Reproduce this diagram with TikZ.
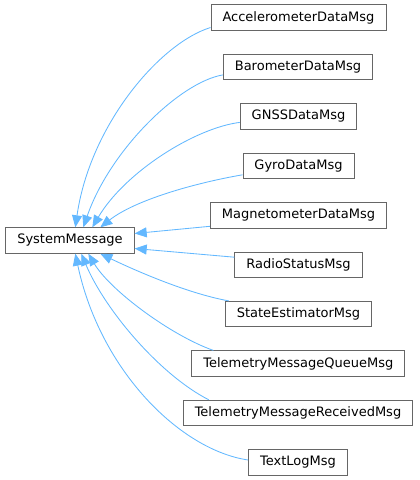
\documentclass[tikz,border=0pt]{standalone}
\usepackage{fontspec}
\setmainfont{DejaVu Sans}
\usetikzlibrary{arrows.meta}
\definecolor{edgeblue}{HTML}{63B8FF}
\definecolor{boxgray}{HTML}{666666}
\tikzset{
  cls/.style={draw=boxgray, fill=white, line width=0.9pt, inner xsep=11.5pt, inner ysep=0pt,
    minimum height=25.5pt, font=\fontsize{13}{15}\selectfont, text=black},
  inh/.style={draw=edgeblue, line width=0.85pt, -{Triangle[length=12pt,width=10pt]}, color=edgeblue}
}
\begin{document}
\begin{tikzpicture}[x=1pt,y=-1pt]
\useasboundingbox (0,0) rectangle (420,480);
\node[cls] (sm) at (70,240.5) {SystemMessage};
\node[cls] (acc) at (298.5,17.5) {AccelerometerDataMsg};
\node[cls] (baro) at (298,66.9) {BarometerDataMsg};
\node[cls] (gnss) at (298.5,116.4) {GNSSDataMsg};
\node[cls] (gyro) at (298.5,165.8) {GyroDataMsg};
\node[cls] (mag) at (298.5,215.3) {MagnetometerDataMsg};
\node[cls] (radio) at (298.5,264.7) {RadioStatusMsg};
\node[cls] (state) at (298.5,314.1) {StateEstimatorMsg};
\node[cls] (queue) at (298.3,363.6) {TelemetryMessageQueueMsg};
\node[cls] (recv) at (298,413) {TelemetryMessageReceivedMsg};
\node[cls] (textlog) at (298,462.5) {TextLogMsg};

\draw[inh] ([yshift=-10pt]acc.west) .. controls (160,43) and (90,125) .. ([xshift=70pt]sm.north west);
\draw[inh] ([yshift=-8pt]baro.west) .. controls (180,82) and (110,150) .. ([xshift=78pt]sm.north west);
\draw[inh] ([yshift=-6pt]gnss.west) .. controls (195,128) and (125,172) .. ([xshift=87pt]sm.north west);
\draw[inh] ([yshift=-9pt]gyro.west) .. controls (195,183) and (135,200) .. ([xshift=95pt]sm.north west);
\draw[inh] ([yshift=-11pt]mag.west) -- ([yshift=7pt]sm.east);
\draw[inh] ([yshift=7.5pt]radio.west) -- ([yshift=-8pt]sm.east);
\draw[inh] ([xshift=4pt]state.north west) .. controls (185,293) and (130,268) .. ([xshift=95pt]sm.south west);
\draw[inh] ([xshift=22pt]queue.north west) .. controls (170,335) and (110,290) .. ([xshift=83pt]sm.south west);
\draw[inh] ([xshift=26pt]recv.north west) .. controls (160,375) and (105,310) .. ([xshift=76pt]sm.south west);
\draw[inh] ([yshift=2.5pt]textlog.west) .. controls (180,450) and (100,370) .. ([xshift=70pt]sm.south west);
\end{tikzpicture}
\end{document}
